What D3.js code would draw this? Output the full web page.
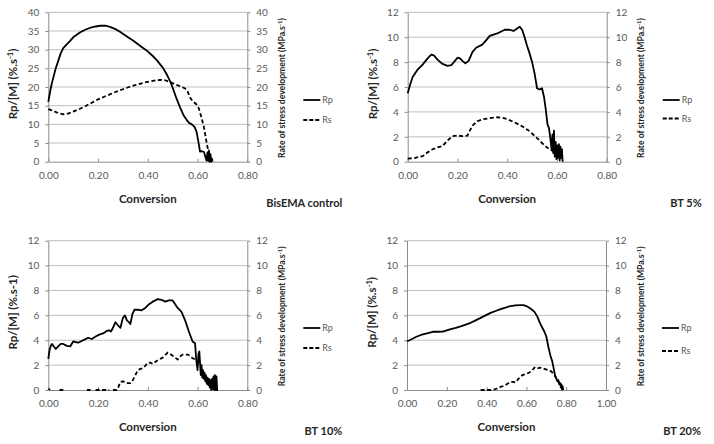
<!DOCTYPE html>
<html><head><meta charset="utf-8">
<script src="https://cdn.jsdelivr.net/npm/d3@7"></script>
<style>body{margin:0;background:#fff}</style>
</head><body><svg id="c" width="714" height="444"></svg>
<script>
// ---------- DATA ----------
const panelTitles = ["BisEMA control", "BT 5%", "BT 10%", "BT 20%"];
const xTicksA = [0, 0.2, 0.4, 0.6, 0.8];
const xTicksB = [0, 0.2, 0.4, 0.6, 0.8, 1.0];
const yTicks40 = [0, 5, 10, 15, 20, 25, 30, 35, 40];
const yTicks12 = [0, 2, 4, 6, 8, 10, 12];
const seriesNames = ["Rp", "Rs"];

const bisRp = [[0,16],[0.008,19],[0.016,21.5],[0.03,25],[0.04,27],[0.05,29],[0.06,30.4],[0.075,31.5],[0.087,32.3],[0.1,33.3],[0.127,34.6],[0.15,35.4],[0.167,35.8],[0.19,36.2],[0.208,36.4],[0.23,36.4],[0.248,36.1],[0.27,35.5],[0.288,34.8],[0.31,33.8],[0.342,32.4],[0.37,31],[0.395,29.8],[0.42,28.3],[0.436,27.2],[0.46,25.2],[0.476,23.4],[0.49,21.5],[0.5,19.8],[0.515,17],[0.53,14.5],[0.545,12.3],[0.556,11.2],[0.566,10.4],[0.577,10],[0.588,9.3],[0.596,8],[0.603,5.5],[0.61,2.7],[0.618,2.8],[0.626,2.6],[0.632,1.2],[0.636,0.3],[0.64,2.5],[0.643,0.2],[0.646,3],[0.649,0],[0.652,2],[0.655,0],[0.658,0.8],[0.66,0]];
const bisRs = [[0,14.1],[0.02,13.6],[0.04,13],[0.06,12.7],[0.08,12.9],[0.1,13.4],[0.125,14.1],[0.15,14.9],[0.175,15.8],[0.2,16.7],[0.225,17.4],[0.25,18.1],[0.275,18.8],[0.3,19.4],[0.325,20],[0.35,20.5],[0.375,21],[0.4,21.4],[0.425,21.7],[0.45,21.9],[0.47,21.8],[0.49,21.3],[0.51,20.7],[0.53,20.2],[0.55,19.6],[0.56,18.8],[0.57,17.2],[0.58,16.2],[0.595,15.4],[0.605,14.3],[0.615,12],[0.625,9.4],[0.632,6.8],[0.638,4.5],[0.644,2.8],[0.648,1],[0.652,0]];

const bt5Rp = [[0,5.5],[0.01,6.2],[0.02,6.8],[0.03,7.1],[0.04,7.4],[0.06,7.8],[0.08,8.3],[0.095,8.6],[0.105,8.55],[0.12,8.2],[0.14,7.85],[0.16,7.7],[0.175,7.75],[0.19,8.1],[0.2,8.35],[0.21,8.3],[0.22,8.1],[0.232,7.9],[0.245,8.1],[0.26,8.8],[0.275,9.15],[0.3,9.4],[0.315,9.75],[0.33,10.1],[0.36,10.3],[0.39,10.6],[0.41,10.6],[0.425,10.5],[0.44,10.7],[0.45,10.85],[0.46,10.6],[0.47,10],[0.48,9.3],[0.49,8.7],[0.5,8.0],[0.51,7.1],[0.52,5.9],[0.53,5.8],[0.54,5.9],[0.548,5.2],[0.555,4.2],[0.562,3.0],[0.568,2.7],[0.574,1.8],[0.578,1.0],[0.582,2.2],[0.585,0.7],[0.588,2.5],[0.591,0.4],[0.595,1.6],[0.598,0.2],[0.601,1.3],[0.604,0.3],[0.608,1.4],[0.611,0.1],[0.614,1.2],[0.617,0.3],[0.62,1.0],[0.623,0]];
const bt5Rs = [[0,0.25],[0.03,0.3],[0.06,0.45],[0.08,0.75],[0.1,1.0],[0.12,1.15],[0.14,1.25],[0.16,1.7],[0.18,2.05],[0.2,2.1],[0.22,2.05],[0.24,2.1],[0.26,2.9],[0.28,3.25],[0.3,3.4],[0.33,3.5],[0.36,3.57],[0.38,3.52],[0.4,3.42],[0.43,3.15],[0.46,2.85],[0.49,2.45],[0.52,1.9],[0.55,1.3],[0.57,1.0],[0.585,0.85]];

const bt10Rp = [[0,2.5],[0.005,3.2],[0.01,3.55],[0.015,3.7],[0.022,3.5],[0.03,3.3],[0.04,3.5],[0.05,3.7],[0.06,3.7],[0.075,3.55],[0.088,3.5],[0.1,3.9],[0.11,3.85],[0.12,3.8],[0.13,3.9],[0.145,4.05],[0.16,4.2],[0.175,4.1],[0.19,4.3],[0.205,4.45],[0.22,4.55],[0.235,4.75],[0.245,4.8],[0.252,4.7],[0.26,5.0],[0.27,5.45],[0.28,5.2],[0.29,5.0],[0.3,5.8],[0.308,6.0],[0.316,5.6],[0.324,5.45],[0.33,5.3],[0.338,6.1],[0.346,6.45],[0.36,6.45],[0.375,6.4],[0.39,6.6],[0.405,6.9],[0.42,7.1],[0.44,7.3],[0.455,7.25],[0.47,7.1],[0.485,7.2],[0.5,7.2],[0.51,6.9],[0.52,6.6],[0.535,6.3],[0.55,5.6],[0.565,4.7],[0.58,3.9],[0.59,3.75],[0.595,2.4],[0.6,1.6],[0.604,2.9],[0.607,3.1],[0.61,2.2],[0.613,1.2],[0.616,2.0],[0.619,1.0],[0.622,1.6],[0.625,0.9],[0.628,1.4],[0.631,0.7],[0.634,1.2],[0.637,0.5],[0.64,1.0],[0.643,0.4],[0.646,0.9],[0.649,0.2],[0.652,0.8],[0.655,0],[0.658,0.9],[0.661,0.1],[0.664,1.1],[0.667,0],[0.67,1.2],[0.673,0],[0.676,1.1],[0.679,0],[0.682,0]];
const bt10Rs = [[0,0.08],[0.008,0.02],[0.012,null],[0.045,0],[0.06,0],[0.062,null],[0.155,0],[0.17,0],[0.172,null],[0.19,0],[0.245,0],[0.25,null],[0.26,0],[0.275,0],[0.28,0.15],[0.29,0.65],[0.3,0.7],[0.31,0.6],[0.32,0.55],[0.33,0.55],[0.34,0.8],[0.35,1.2],[0.36,1.6],[0.37,1.7],[0.38,1.75],[0.39,1.95],[0.4,2.2],[0.41,2.2],[0.42,2.1],[0.43,2.25],[0.44,2.4],[0.46,2.6],[0.47,2.8],[0.48,3.0],[0.49,2.9],[0.5,2.75],[0.51,2.6],[0.52,2.45],[0.53,2.7],[0.54,2.85],[0.56,2.85],[0.57,2.75],[0.58,2.55],[0.6,2.4],[0.61,2.1]];

const bt20Rp = [[0,3.9],[0.025,4.1],[0.05,4.3],[0.075,4.45],[0.1,4.55],[0.13,4.68],[0.155,4.68],[0.18,4.7],[0.2,4.8],[0.22,4.9],[0.245,5.0],[0.27,5.12],[0.295,5.25],[0.32,5.4],[0.345,5.6],[0.37,5.8],[0.395,6.0],[0.42,6.2],[0.445,6.35],[0.47,6.5],[0.495,6.62],[0.52,6.75],[0.545,6.8],[0.57,6.82],[0.585,6.82],[0.6,6.75],[0.62,6.55],[0.64,6.3],[0.655,5.9],[0.665,5.5],[0.68,5.0],[0.69,4.7],[0.7,4.3],[0.71,3.5],[0.72,2.8],[0.73,2.3],[0.735,1.9],[0.74,1.5],[0.745,1.1],[0.75,0.95],[0.755,0.7],[0.76,0.8],[0.765,0.45],[0.77,0.55],[0.773,0.2],[0.776,0.45],[0.779,0.05],[0.782,0.3],[0.785,0]];
const bt20Rs = [[0.37,0],[0.4,0],[0.43,0],[0.45,0.1],[0.47,0.25],[0.49,0.35],[0.505,0.5],[0.52,0.65],[0.535,0.65],[0.545,0.6],[0.56,0.9],[0.58,1.2],[0.6,1.3],[0.615,1.4],[0.63,1.6],[0.64,1.8],[0.65,1.7],[0.66,1.75],[0.67,1.8],[0.68,1.75],[0.69,1.7],[0.71,1.6],[0.725,1.5],[0.735,1.3],[0.745,1.1],[0.755,0.8],[0.765,0.6],[0.775,0.3],[0.78,0.05]];

// ---------- LAYOUT ----------
const svg = d3.select("#c");
const FONT = "Lato, 'Open Sans', sans-serif";
const TICKCOL = "#595959", GRID = "#bfbfbf", AXIS = "#8c8c8c";

const panels = [
  {x0:48.3, x1:247.3, yT:12.3, yB:161.7, xMax:0.8, xt:xTicksA, yMax:40, yt:yTicks40, rp:bisRp, rs:bisRs, title:panelTitles[0], sup:true, legY:[100,120]},
  {x0:407.7, x1:606.7, yT:12.3, yB:161.7, xMax:0.8, xt:xTicksA, yMax:12, yt:yTicks12, rp:bt5Rp, rs:bt5Rs, title:panelTitles[1], sup:true, legY:[100,118.5]},
  {x0:48.3, x1:247.3, yT:240.7, yB:390, xMax:0.8, xt:xTicksA, yMax:12, yt:yTicks12, rp:bt10Rp, rs:bt10Rs, title:panelTitles[2], sup:false, legY:[328,348]},
  {x0:407, x1:606, yT:240.7, yB:390, xMax:1.0, xt:xTicksB, yMax:12, yt:yTicks12, rp:bt20Rp, rs:bt20Rs, title:panelTitles[3], sup:true, legY:[328,351]}
];

panels.forEach(p => {
  const x = d3.scaleLinear().domain([0, p.xMax]).range([p.x0, p.x1]);
  const yL = d3.scaleLinear().domain([0, p.yMax]).range([p.yB, p.yT]);
  const yR = d3.scaleLinear().domain([0, p.yMax]).range([p.yB, p.yT]);
  const g = svg.append("g");

  // gridlines
  g.append("g").selectAll("line").data(p.yt.filter(v => v > 0)).join("line")
    .attr("x1", p.x0).attr("x2", p.x1)
    .attr("y1", d => yL(d)).attr("y2", d => yL(d))
    .attr("stroke", GRID).attr("stroke-width", 1);

  // axes
  const styleAxis = (sel) => {
    sel.select(".domain").attr("stroke", AXIS);
    sel.selectAll(".tick line").attr("stroke", AXIS);
    sel.selectAll(".tick text").attr("fill", TICKCOL).style("font-family", FONT).style("font-size", "10px");
  };
  g.append("g").attr("transform", `translate(0,${p.yB})`)
    .call(d3.axisBottom(x).tickValues(p.xt).tickFormat(d3.format(".2f")).tickSizeInner(-3).tickSizeOuter(0).tickPadding(10))
    .call(styleAxis);
  g.append("g").attr("transform", `translate(${p.x0},0)`)
    .call(d3.axisLeft(yL).tickValues(p.yt).tickFormat(d3.format("d")).tickSize(3).tickSizeOuter(0).tickPadding(6))
    .call(styleAxis);
  g.append("g").attr("transform", `translate(${p.x1},0)`)
    .call(d3.axisRight(yR).tickValues(p.yt).tickFormat(d3.format("d")).tickSize(3).tickSizeOuter(0).tickPadding(6))
    .call(styleAxis);

  // lines
  const line = (ys) => d3.line().defined(d => d[1] != null).x(d => x(d[0])).y(d => ys(d[1])).curve(d3.curveLinear);
  g.append("path").datum(p.rs).attr("d", line(yR))
    .attr("fill", "none").attr("stroke", "#000").attr("stroke-width", 1.8)
    .attr("stroke-dasharray", "4,2.5");
  g.append("path").datum(p.rp).attr("d", line(yL))
    .attr("fill", "none").attr("stroke", "#000").attr("stroke-width", 1.8)
    .attr("stroke-linejoin", "round");

  // x title
  g.append("text").attr("x", (p.x0 + p.x1) / 2).attr("y", p.yB + 41)
    .attr("text-anchor", "middle").style("font-family", FONT).style("font-weight", "bold")
    .style("font-size", "11.5px").attr("fill", "#262626").text("Conversion");

  // panel title
  g.append("text").attr("x", p.x0 + 294).attr("y", p.yB + 45)
    .attr("text-anchor", "end").style("font-family", FONT).style("font-weight", "bold")
    .style("font-size", "11px").attr("fill", "#262626").text(p.title);

  // left y label
  const cyL = (p.yT + p.yB) / 2 - 3;
  const tl = g.append("text").attr("transform", `translate(${p.x0 - 31},${cyL}) rotate(-90)`)
    .attr("text-anchor", "middle").style("font-family", FONT).style("font-weight", "bold")
    .style("font-size", "11.5px").attr("fill", "#262626");
  if (p.sup) {
    tl.append("tspan").text("Rp/[M] (%.s");
    tl.append("tspan").attr("dy", -4).style("font-size", "7.5px").text("-1");
    tl.append("tspan").attr("dy", 4).text(")");
  } else {
    tl.text("Rp/[M] (%.s-1)");
  }

  // right y label
  const cyR = (p.yT + p.yB) / 2 + 1;
  const tr = g.append("text").attr("transform", `translate(${p.x1 + 37.5},${cyR}) rotate(-90)`)
    .attr("text-anchor", "middle").style("font-family", FONT).style("font-weight", "bold")
    .style("font-size", "8.6px").attr("fill", "#262626");
  tr.append("tspan").text("Rate of stress development (MPa.s");
  tr.append("tspan").attr("dy", -3).style("font-size", "6px").text("-1");
  tr.append("tspan").attr("dy", 3).text(")");

  // legend
  seriesNames.forEach((name, i) => {
    const ly = p.legY[i];
    g.append("line").attr("x1", p.x0 + 255).attr("x2", p.x0 + 272).attr("y1", ly).attr("y2", ly)
      .attr("stroke", "#000").attr("stroke-width", 1.8)
      .attr("stroke-dasharray", i === 1 ? "4,2" : null);
    g.append("text").attr("x", p.x0 + 274).attr("y", ly + 3.2)
      .style("font-family", FONT).style("font-size", "9px").attr("fill", TICKCOL).text(name);
  });
});
</script></body></html>
